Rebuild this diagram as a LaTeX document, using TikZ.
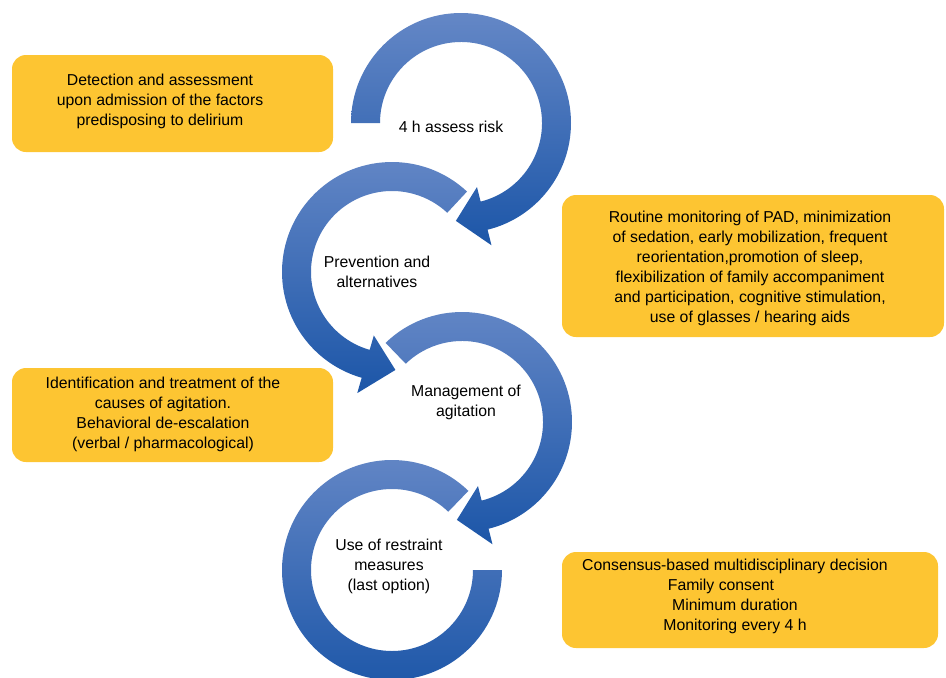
\documentclass[tikz,border=0pt]{standalone}
\usepackage{fontspec}
\setmainfont{Liberation Sans}
\definecolor{boxfill}{RGB}{253,197,50}
\definecolor{arctop}{RGB}{100,135,198}
\definecolor{arcbot}{RGB}{28,86,168}
\begin{document}
\begin{tikzpicture}[x=1pt,y=1pt,
  infobox/.style={fill=boxfill, rounded corners=14pt, inner sep=0pt},
  txt/.style={font=\fontsize{15.8}{20}\selectfont, align=center, text=black, inner sep=0pt},
  arcshade/.style={top color=arctop, bottom color=arcbot, draw=none}]
\useasboundingbox (0,0) rectangle (946,-678);
\clip (0,0) rectangle (946,-678);

% yellow boxes
\node[infobox, minimum width=321pt, minimum height=97pt] (b1) at (172.5,-103.5) {};
\node[infobox, minimum width=382pt, minimum height=142pt] (b2) at (753,-266) {};
\node[infobox, minimum width=321pt, minimum height=94pt] (b3) at (172.5,-415) {};
\node[infobox, minimum width=376pt, minimum height=96pt] (b4) at (750,-600) {};

\node[txt] (t1) at (160,-101) {Detection and assessment\\upon admission of the factors\\predisposing to delirium};
\node[txt] (t2) at (750,-268) {Routine monitoring of PAD, minimization\\of sedation, early mobilization, frequent\\reorientation,promotion of sleep,\\flexibilization of family accompaniment\\and participation, cognitive stimulation,\\use of glasses / hearing aids};
\node[txt] (t3) at (163,-414) {Identification and treatment of the\\causes of agitation.\\Behavioral de-escalation\\(verbal / pharmacological)};
\node[txt] (t4) at (735,-596) {Consensus-based multidisciplinary decision\\\mbox{Family consent\hspace{28pt}}\\Minimum duration\\Monitoring every 4 h};

% arc 1
\begin{scope}[shift={(461,-123)}]
\shade[arcshade] (180:110) arc[start angle=180,end angle=-76,radius=110pt] -- (-76:126) -- (-93:98) -- (-76:66) -- (-76:81) arc[start angle=-76,end angle=180,radius=81pt] -- cycle;
\end{scope}
% arc 2
\begin{scope}[shift={(392,-272)}]
\shade[arcshade] (47:110) arc[start angle=47,end angle=254,radius=110pt] -- (254:126) -- (272:98) -- (254:66) -- (254:81) arc[start angle=254,end angle=47,radius=81pt] -- cycle;
\end{scope}
% arc 3
\begin{scope}[shift={(462,-422)}]
\shade[arcshade] (134:110) arc[start angle=134,end angle=-76,radius=110pt] -- (-76:126) -- (-93:98) -- (-76:66) -- (-76:81) arc[start angle=-76,end angle=134,radius=81pt] -- cycle;
\end{scope}
% arc 4
\begin{scope}[shift={(392,-570)}]
\shade[arcshade] (46:110) arc[start angle=46,end angle=360,radius=110pt] -- (0:81) arc[start angle=360,end angle=46,radius=81pt] -- cycle;
\end{scope}

\node[txt] (c1) at (451,-127) {4 h assess risk};
\node[txt] (c2) at (377,-272) {Prevention and\\alternatives};
\node[txt] (c3) at (466,-402) {Management of\\agitation};
\node[txt] (c4) at (389,-566) {Use of restraint\\measures\\(last option)};
\end{tikzpicture}
\end{document}
